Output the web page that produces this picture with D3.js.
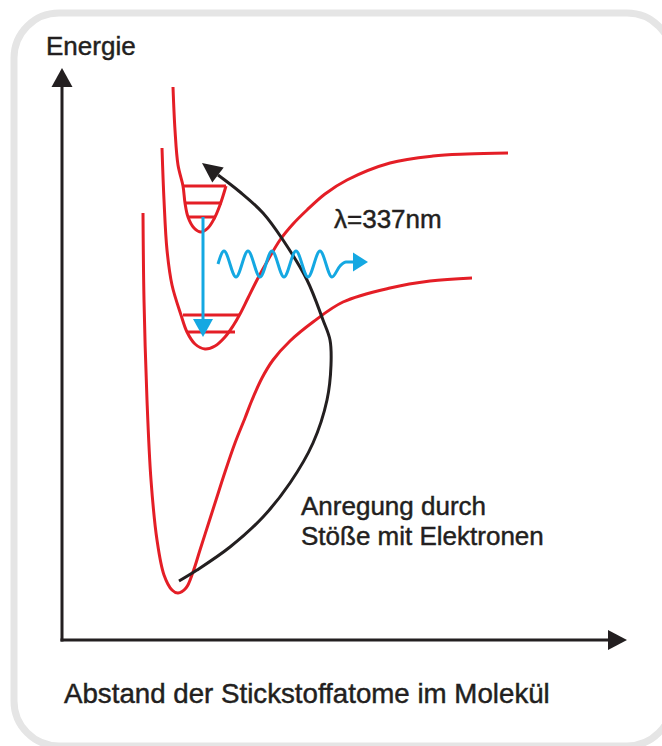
<!DOCTYPE html>
<html>
<head>
<meta charset="utf-8">
<script src="https://cdn.jsdelivr.net/npm/d3@7"></script>
<style>
  html, body { margin: 0; padding: 0; background: #fff; }
  svg { display: block; }
</style>
</head>
<body>
<svg id="canvas"></svg>
<script>
(function () {

    const width = 662;
    const height = 746;
    const red = "rgb(228, 30, 38)";
    const blue = "rgb(20, 168, 226)";
    const ink = "rgb(35, 31, 32)";
    const frameColor = "rgb(229, 229, 229)";
    const font = "'Liberation Sans', Arial, Helvetica, sans-serif";

    // [distance, energy] (arbitrary units)
    const groundState = [
        [81, 427], [82, 340], [85, 240], [89, 160], [95, 100], [102, 65], [110, 50],
        [116, 47], [124, 52], [131, 68], [138, 90], [146, 115], [154, 140], [163, 168],
        [173, 197], [183, 222], [190, 240], [200, 262], [211, 280], [228, 299], [251, 318],
        [281, 338], [328, 352], [368, 359], [410, 362]
    ];
    const lowerLaserState = [
        [100, 492], [102, 440], [105, 390], [110, 355], [119, 325], [125, 308], [133, 296],
        [143, 291], [153, 294], [163, 303], [171, 314], [178, 326], [186, 342], [195, 360],
        [206, 380], [218, 400], [231, 416], [245, 430], [263, 446], [285, 460], [328, 477],
        [371, 484], [405, 486], [446, 487]
    ];
    const upperLaserState = [
        [111, 553], [113, 510], [116, 475], [121, 454], [123, 437], [126, 423], [132, 412],
        [139, 408], [146, 412], [152, 421], [158, 435], [164, 454]
    ];
    const upperLevels = [[454, 121, 164], [437, 123, 160], [423, 126, 154]];
    const lowerLevels = [[325, 121, 178], [308, 125, 173]];

    const excitation = [
        [117, 59], [135, 70], [168, 93], [201, 123], [228, 157], [251, 197], [265, 240],
        [269, 275], [268, 300], [261, 320], [245, 360], [221, 400], [201, 427], [178, 448],
        [156, 465]
    ];
    const excitationTip = [140, 477];

    const transition = [[141, 423], [141, 321]];
    const transitionTip = [141, 303];

    const photon = [
        [156, 376], [162, 389], [174, 363], [186, 389], [198, 363], [210, 389], [222, 363],
        [234, 389], [246, 363], [258, 389], [270, 363], [278, 374], [284, 378], [291, 378]
    ];
    const photonTip = [306, 378];

    const axisMax = { distance: 565, energy: 572 };

    const labels = [
        { text: "Energie", x: 46, y: 55, size: 26 },
        { text: "λ=337nm", x: 334, y: 228, size: 26 },
        { text: "Anregung durch", x: 301, y: 515, size: 26 },
        { text: "Stöße mit Elektronen", x: 301, y: 545, size: 26 },
        { text: "Abstand der Stickstoffatome im Molekül", x: 64, y: 703, size: 27.7 }
    ];

    const canvas = d3.select("#canvas")
        .attr("width", width)
        .attr("height", height)
        .style("background-color", "#fff");

    const x = d3.scaleLinear().domain([0, axisMax.distance]).range([62, 627]);
    const y = d3.scaleLinear().domain([0, axisMax.energy]).range([640, 68]);

    // frame
    canvas.append("rect")
        .attr("x", 14).attr("y", 13)
        .attr("width", 658).attr("height", 733)
        .attr("rx", 45).attr("ry", 45)
        .attr("fill", "none")
        .attr("stroke", frameColor)
        .attr("stroke-width", 7);

    const line = d3.line()
        .x(d => x(d[0]))
        .y(d => y(d[1]))
        .curve(d3.curveCatmullRom.alpha(0.5));

    function arrowHead(from, tip, half, color) {
        const p0 = [x(from[0]), y(from[1])];
        const p1 = [x(tip[0]), y(tip[1])];
        const dx = p1[0] - p0[0], dy = p1[1] - p0[1];
        const len = Math.hypot(dx, dy);
        const nx = -dy / len * half, ny = dx / len * half;
        canvas.append("path")
            .attr("d", `M${p1[0]},${p1[1]}L${p0[0] + nx},${p0[1] + ny}L${p0[0] - nx},${p0[1] - ny}Z`)
            .attr("fill", color);
    }

    // axes
    canvas.append("path")
        .attr("d", `M${x(0)},${y(0) + 1.5}V${y(axisMax.energy - 19)}`)
        .attr("stroke", ink).attr("stroke-width", 3).attr("fill", "none");
    arrowHead([0, axisMax.energy - 19], [0, axisMax.energy], 10.5, ink);

    canvas.append("path")
        .attr("d", `M${x(0) - 1.5},${y(0)}H${x(axisMax.distance - 19)}`)
        .attr("stroke", ink).attr("stroke-width", 3).attr("fill", "none");
    arrowHead([axisMax.distance - 19, 0], [axisMax.distance, 0], 10, ink);

    // potential curves
    canvas.selectAll("path.state")
        .data([groundState, lowerLaserState, upperLaserState])
        .enter()
        .append("path")
        .attr("class", "state")
        .attr("d", line)
        .attr("fill", "none")
        .attr("stroke", red)
        .attr("stroke-width", 3);

    canvas.selectAll("line.level")
        .data(upperLevels.concat(lowerLevels))
        .enter()
        .append("line")
        .attr("class", "level")
        .attr("x1", d => x(d[1]))
        .attr("x2", d => x(d[2]))
        .attr("y1", d => y(d[0]))
        .attr("y2", d => y(d[0]))
        .attr("stroke", red)
        .attr("stroke-width", 3);

    // excitation arrow
    canvas.append("path")
        .attr("d", line(excitation))
        .attr("fill", "none")
        .attr("stroke", ink)
        .attr("stroke-width", 3);
    arrowHead(excitation[excitation.length - 1], excitationTip, 9.5, ink);

    // laser transition
    canvas.append("path")
        .attr("d", d3.line().x(d => x(d[0])).y(d => y(d[1]))(transition))
        .attr("fill", "none")
        .attr("stroke", blue)
        .attr("stroke-width", 3);
    arrowHead(transition[1], transitionTip, 10, blue);

    // emitted photon
    canvas.append("path")
        .attr("d", d3.line().x(d => x(d[0])).y(d => y(d[1])).curve(d3.curveMonotoneX)(photon))
        .attr("fill", "none")
        .attr("stroke", blue)
        .attr("stroke-width", 3);
    arrowHead(photon[photon.length - 1], photonTip, 9.5, blue);

    // texts
    canvas.selectAll("text")
        .data(labels)
        .enter()
        .append("text")
        .attr("x", d => d.x)
        .attr("y", d => d.y)
        .attr("font-family", font)
        .attr("font-size", d => d.size)
        .attr("fill", ink)
        .attr("stroke", ink)
        .attr("stroke-width", 0.45)
        .text(d => d.text);

})();
</script>
</body>
</html>
